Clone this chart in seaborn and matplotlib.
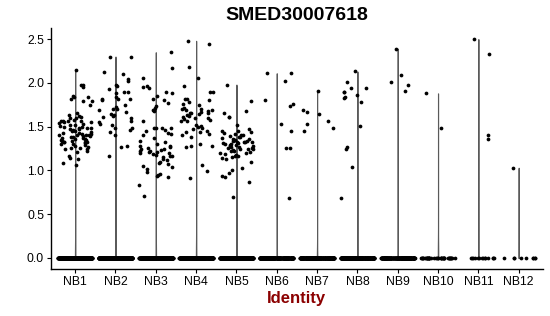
import numpy as np
import pandas as pd
import matplotlib
matplotlib.use("Agg")
import matplotlib.pyplot as plt
import seaborn as sns

np.random.seed(3)

identities = ["NB1", "NB2", "NB3", "NB4", "NB5", "NB6", "NB7", "NB8", "NB9", "NB10", "NB11", "NB12"]
zero_counts = [400, 350, 350, 350, 350, 250, 250, 250, 200, 40, 14, 9]

nb1 = [2.15, 1.98, 1.98, 1.95, 1.85, 1.84, 1.84, 1.81, 1.79, 1.79, 1.75,
       1.65, 1.63, 1.62, 1.61, 1.60, 1.60, 1.58, 1.57, 1.57, 1.56, 1.56, 1.55, 1.55, 1.54, 1.53,
       1.52, 1.52, 1.51, 1.50, 1.50, 1.49, 1.49, 1.48, 1.47, 1.47, 1.46, 1.45, 1.45, 1.44, 1.43,
       1.43, 1.42, 1.42, 1.41, 1.41, 1.40, 1.40, 1.39, 1.39, 1.38, 1.38, 1.37, 1.37, 1.36, 1.36,
       1.35, 1.35, 1.34, 1.34, 1.33, 1.33, 1.32, 1.32, 1.31, 1.30, 1.30, 1.29, 1.28, 1.27, 1.26,
       1.26, 1.25, 1.24, 1.22, 1.21, 1.16, 1.14, 1.13, 1.09, 1.06]
nb2 = [2.30, 2.30, 2.12, 2.10, 2.04, 2.02, 1.98, 1.96, 1.93, 1.90, 1.90, 1.88, 1.84, 1.81, 1.81,
       1.81, 1.80, 1.75, 1.72, 1.70, 1.70, 1.69, 1.67, 1.64, 1.63, 1.62, 1.61, 1.60, 1.57, 1.55,
       1.53, 1.52, 1.49, 1.48, 1.46, 1.44, 1.40, 1.28, 1.27, 1.17]
nb3 = [2.35, 2.17, 2.05, 1.96, 1.95, 1.94, 1.90, 1.88, 1.85, 1.81, 1.80, 1.77, 1.73, 1.71, 1.69,
       1.69, 1.68, 1.56, 1.49, 1.49, 1.48, 1.48, 1.46, 1.45, 1.43, 1.42, 1.40, 1.37, 1.34, 1.33,
       1.30, 1.28, 1.28, 1.27, 1.26, 1.25, 1.24, 1.23, 1.22, 1.22, 1.21, 1.21, 1.20, 1.20, 1.19,
       1.18, 1.17, 1.16, 1.15, 1.13, 1.12, 1.10, 1.09, 1.07, 1.05, 1.04, 1.02, 0.98, 0.96, 0.95,
       0.94, 0.93, 0.83, 0.71]
nb4 = [2.48, 2.44, 2.18, 2.05, 1.96, 1.90, 1.90, 1.81, 1.81, 1.80, 1.78, 1.76, 1.75, 1.71, 1.70,
       1.70, 1.69, 1.69, 1.68, 1.67, 1.66, 1.65, 1.65, 1.64, 1.63, 1.62, 1.61, 1.60, 1.60, 1.59,
       1.58, 1.57, 1.56, 1.52, 1.51, 1.50, 1.48, 1.47, 1.45, 1.44, 1.44, 1.42, 1.40, 1.38, 1.30,
       1.28, 1.28, 1.27, 1.06, 0.99, 0.91]
nb5 = [1.98, 1.79, 1.68, 1.66, 1.61, 1.61, 1.52, 1.47, 1.45, 1.45, 1.44, 1.43, 1.42, 1.41, 1.40,
       1.39, 1.38, 1.38, 1.37, 1.36, 1.36, 1.35, 1.35, 1.34, 1.34, 1.33, 1.33, 1.32, 1.32, 1.31,
       1.31, 1.30, 1.30, 1.29, 1.29, 1.28, 1.28, 1.27, 1.27, 1.26, 1.26, 1.25, 1.25, 1.24, 1.23,
       1.22, 1.22, 1.21, 1.20, 1.20, 1.19, 1.18, 1.17, 1.16, 1.15, 1.14, 1.13, 1.10, 1.03, 1.00,
       0.97, 0.94, 0.92, 0.87, 0.70]
nb6 = [2.11, 2.11, 2.02, 1.80, 1.76, 1.73, 1.53, 1.45, 1.26, 1.26, 0.69]
nb7 = [1.91, 1.69, 1.67, 1.64, 1.57, 1.53, 1.48, 1.45]
nb8 = [2.13, 2.01, 1.94, 1.94, 1.89, 1.89, 1.86, 1.84, 1.83, 1.78, 1.51, 1.27, 1.24, 1.04, 0.69]
nb9 = [2.39, 2.09, 2.01, 1.97, 1.91]
nb10 = [1.88, 1.49]
nb11 = [2.50, 2.33, 1.40, 1.36]
nb12 = [1.03]

nonzero = [nb1, nb2, nb3, nb4, nb5, nb6, nb7, nb8, nb9, nb10, nb11, nb12]

rows_id, rows_val = [], []
for ident, zc, vals in zip(identities, zero_counts, nonzero):
    rows_id += [ident] * zc + [ident] * len(vals)
    rows_val += [0.0] * zc + list(vals)
df = pd.DataFrame({"Identity": rows_id, "Expression": rows_val})

sns.set_style("white")
plt.rcParams["font.family"] = ["Liberation Sans", "DejaVu Sans"]

fig = plt.figure(figsize=(5.5, 3.16), dpi=100)
ax = fig.add_axes([0.0927, 0.149, 0.8943, 0.762])

sns.violinplot(data=df, x="Identity", y="Expression", order=identities, ax=ax,
               color="#5a5a5a", linecolor="#5a5a5a", saturation=1, width=0.012,
               cut=0, inner=None, linewidth=0.8, density_norm="width")
sns.stripplot(data=df, x="Identity", y="Expression", order=identities, ax=ax,
              color="black", size=2.7, jitter=0.42, linewidth=0)

ax.set_xlim(-0.6, len(identities) - 0.4)
ax.set_ylim(-0.125, 2.625)
ax.set_yticks([0, 0.5, 1.0, 1.5, 2.0, 2.5])
ax.set_yticklabels(["0.0", "0.5", "1.0", "1.5", "2.0", "2.5"])
ax.set_ylabel("")
ax.set_xlabel("Identity", fontsize=12, fontweight="bold", color="#8B0000", labelpad=2)
ax.set_title("SMED30007618", fontsize=14, fontweight="bold", color="black", pad=6)

for s in ["top", "right"]:
    ax.spines[s].set_visible(False)
for s in ["left", "bottom"]:
    ax.spines[s].set_color("black")
    ax.spines[s].set_linewidth(1.0)
ax.tick_params(axis="both", length=3, width=0.8, color="black", labelsize=8.8,
               labelcolor="black", pad=2, left=True, bottom=True)

fig.savefig("out.png", dpi=100)
